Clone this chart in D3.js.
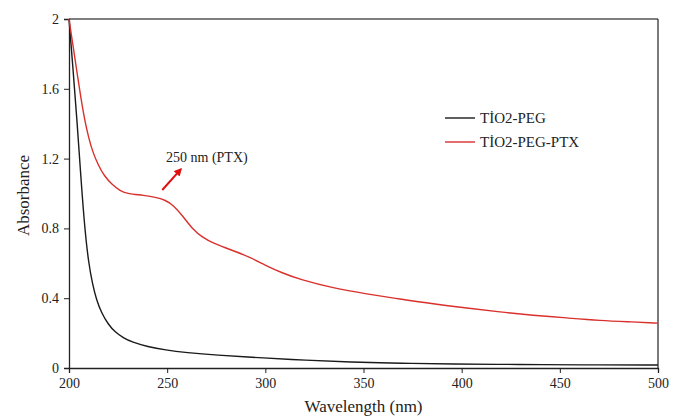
<!DOCTYPE html>
<html>
<head>
<meta charset="utf-8">
<script src="https://cdn.jsdelivr.net/npm/d3@7"></script>
<style>
  body { margin: 0; background: #fff; }
  text { font-family: "Liberation Serif", "Times New Roman", serif; fill: #222; }
</style>
</head>
<body>
<svg id="chart"></svg>
<script>
const width = 683, height = 416;

// series
const pegWave = [200, 202, 204, 206, 208, 210, 212, 214, 216.6, 220, 223.4, 228, 232, 240, 249, 260, 274, 300, 320, 343, 370, 394, 430, 460, 500];
const pegAbs  = [2.0, 1.72, 1.43, 1.1, 0.8, 0.6, 0.48, 0.39, 0.315, 0.25, 0.206, 0.17, 0.149, 0.122, 0.103, 0.088, 0.074, 0.057, 0.045, 0.034, 0.027, 0.023, 0.02, 0.018, 0.017];

const ptxWave = [200, 202, 204, 206, 208, 210, 212, 215, 218, 222, 226, 230, 238, 245, 249, 253, 258, 263, 268, 274, 280.5, 292, 300, 309, 317.7, 334.5, 351.8, 368.6, 385.5, 402.7, 419.5, 436.3, 453.6, 470.4, 487.3, 500];
const ptxAbs  = [2.0, 1.85, 1.70, 1.55, 1.42, 1.32, 1.24, 1.16, 1.10, 1.05, 1.015, 0.998, 0.99, 0.976, 0.962, 0.935, 0.87, 0.795, 0.748, 0.712, 0.686, 0.636, 0.588, 0.543, 0.507, 0.458, 0.424, 0.395, 0.367, 0.344, 0.321, 0.302, 0.287, 0.272, 0.264, 0.257];

const xTicks = [200, 250, 300, 350, 400, 450, 500];
const yTicks = [0, 0.4, 0.8, 1.2, 1.6, 2];
const seriesNames = ["TİO2-PEG", "TİO2-PEG-PTX"];
const seriesColors = ["#1a1a1a", "#d9302c"];

const svg = d3.select("#chart").attr("width", width).attr("height", height);

const x = d3.scaleLinear().domain([200, 500]).range([69, 658]);
const y = d3.scaleLinear().domain([0, 2]).range([368, 19]);

// frame: top and right
svg.append("line").attr("x1", x(200)).attr("x2", x(500)).attr("y1", y(2)).attr("y2", y(2))
  .attr("stroke", "#555").attr("stroke-width", 1.5);
svg.append("line").attr("x1", x(500)).attr("x2", x(500)).attr("y1", y(2)).attr("y2", y(0))
  .attr("stroke", "#222").attr("stroke-width", 1.2);

const xAxis = svg.append("g").attr("transform", `translate(0,${y(0)})`)
  .call(d3.axisBottom(x).tickValues(xTicks).tickSize(5).tickPadding(5).tickFormat(d3.format("d")));
const yAxis = svg.append("g").attr("transform", `translate(${x(200)},0)`)
  .call(d3.axisLeft(y).tickValues(yTicks).tickSize(5).tickPadding(5).tickFormat(d => d === 0 || d === 2 ? d : d.toFixed(1)));

[xAxis, yAxis].forEach(g => {
  g.attr("font-family", null);
  g.select(".domain").attr("stroke", "#222").attr("stroke-width", 1.3);
  g.selectAll(".tick line").attr("stroke", "#222");
  g.selectAll(".tick text").attr("font-size", 14).attr("fill", "#222");
});

const line = d3.line().x(d => x(d[0])).y(d => y(d[1])).curve(d3.curveBasis);

const series = [d3.zip(pegWave, pegAbs), d3.zip(ptxWave, ptxAbs)];
series.forEach((s, i) => {
  svg.append("path").datum(s).attr("d", line)
    .attr("fill", "none").attr("stroke", seriesColors[i]).attr("stroke-width", 1.4);
});

// legend
seriesNames.forEach((n, i) => {
  const ly = 118 + i * 24;
  svg.append("line").attr("x1", 445).attr("x2", 475).attr("y1", ly).attr("y2", ly)
    .attr("stroke", seriesColors[i]).attr("stroke-width", 1.4);
  svg.append("text").attr("x", 480).attr("y", ly + 5).attr("font-size", 15).text(n);
});

// annotation
svg.append("defs").append("marker").attr("id", "arrow").attr("viewBox", "0 0 10 10")
  .attr("refX", 8).attr("refY", 5).attr("markerWidth", 4).attr("markerHeight", 4).attr("orient", "auto")
  .append("path").attr("d", "M0,0L10,5L0,10z").attr("fill", "#e01010");
svg.append("line").attr("x1", x(247.5)).attr("y1", y(1.02)).attr("x2", x(257)).attr("y2", y(1.14))
  .attr("stroke", "#e01010").attr("stroke-width", 2).attr("marker-end", "url(#arrow)");
svg.append("text").attr("x", 166).attr("y", 162).attr("font-size", 14).text("250 nm (PTX)");

// axis titles
svg.append("text").attr("x", (x(200) + x(500)) / 2).attr("y", 412).attr("text-anchor", "middle")
  .attr("font-size", 17).text("Wavelength (nm)");
svg.append("text").attr("transform", `translate(29,${y(1) + 2}) rotate(-90)`).attr("text-anchor", "middle")
  .attr("font-size", 17).text("Absorbance");
</script>
</body>
</html>
